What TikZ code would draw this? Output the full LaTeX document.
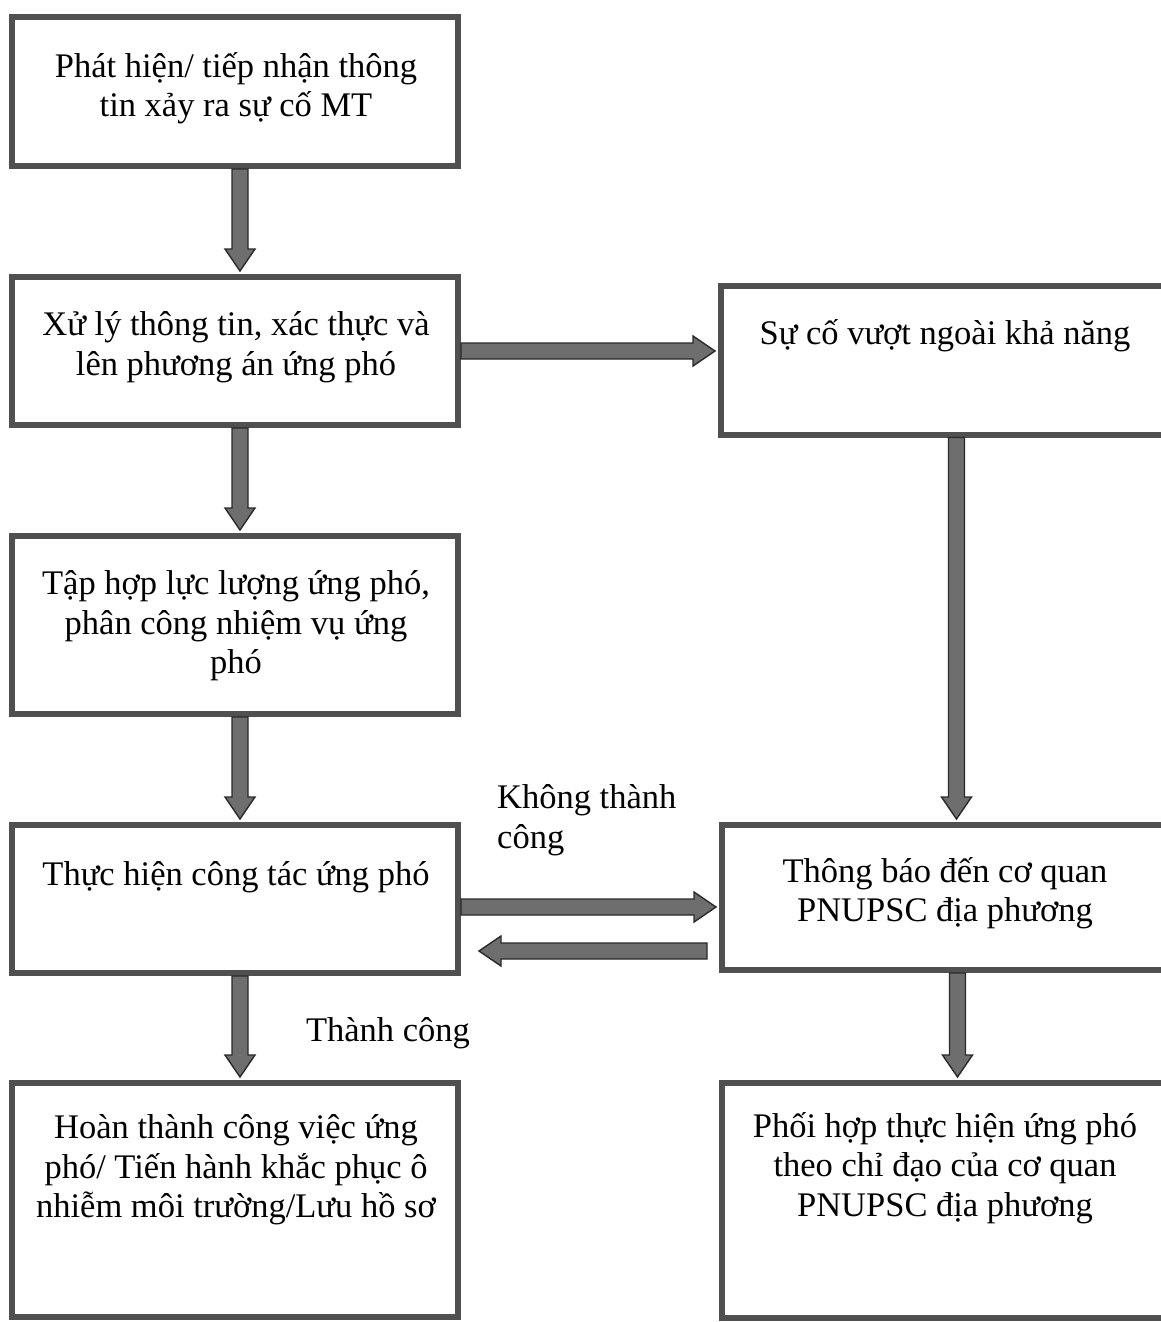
\documentclass[tikz,border=0pt]{standalone}
\usepackage{fontspec}
\setmainfont{Liberation Serif}
\usetikzlibrary{calc}
\definecolor{boxline}{HTML}{505050}
\definecolor{arrfill}{HTML}{6E6E6E}
\definecolor{arrline}{HTML}{2A2A2A}
\tikzset{
  box/.style={draw=boxline, line width=6pt, fill=white, rectangle, inner sep=0pt},
  txt/.style={align=center, font=\fontsize{34.5}{39.5}\selectfont, inner sep=0pt},
  lbl/.style={align=left, font=\fontsize{34.5}{39.5}\selectfont, inner sep=0pt},
  blockarrow/.style={draw=arrline, fill=arrfill, line width=1.4pt, line join=miter}
}
\newcommand\barrow[2]{%
  \path (#1) coordinate (bA) (#2) coordinate (bB) ($(bB)!22pt!(bA)$) coordinate (bH);
  \draw[blockarrow] ($(bA)!8pt!90:(bB)$) -- ($(bH)!8pt!90:(bB)$) -- ($(bH)!15pt!90:(bB)$) -- (bB)
    -- ($(bH)!15pt!-90:(bB)$) -- ($(bH)!8pt!-90:(bB)$) -- ($(bA)!8pt!-90:(bB)$) -- cycle;}
\begin{document}
\begin{tikzpicture}[x=1pt,y=-1pt]
\useasboundingbox (0,0) rectangle (1161,1322);
\fill[white] (0,0) rectangle (1161,1322);
\clip (0,0) rectangle (1161,1322);
% left column boxes
\node[box, minimum width=446pt, minimum height=149pt] (b1) at (235,91.5) {};
\node[box, minimum width=446pt, minimum height=148pt] (b2) at (235,351) {};
\node[box, minimum width=446pt, minimum height=178pt] (b3) at (235,625) {};
\node[box, minimum width=446pt, minimum height=148pt] (b4) at (235,899) {};
\node[box, minimum width=446pt, minimum height=234pt] (b5) at (235,1200) {};
% right column boxes (cut at the right edge)
\node[box, minimum width=459pt, minimum height=149pt] (rA) at (950.5,360) {};
\node[box, minimum width=459pt, minimum height=145pt] (rB) at (951.5,897.5) {};
\node[box, minimum width=459pt, minimum height=235pt] (rC) at (951.5,1200.5) {};
% texts
\node[txt] (t1) at (236,88) {Phát hiện/ tiếp nhận thông\\tin xảy ra sự cố MT};
\node[txt] (t2) at (236,347) {Xử lý thông tin, xác thực và\\lên phương án ứng phó};
\node[txt] (t3) at (236,626) {Tập hợp lực lượng ứng phó,\\phân công nhiệm vụ ứng\\phó};
\node[txt] (t4) at (236,877) {Thực hiện công tác ứng phó};
\node[txt] (t5) at (236,1170) {Hoàn thành công việc ứng\\phó/ Tiến hành khắc phục ô\\nhiễm môi trường/Lưu hồ sơ};
\node[txt] (tA) at (945,336) {Sự cố vượt ngoài khả năng};
\node[txt] (tB) at (945,893) {Thông báo đến cơ quan\\PNUPSC địa phương};
\node[txt] (tC) at (945,1168) {Phối hợp thực hiện ứng phó\\theo chỉ đạo của cơ quan\\PNUPSC địa phương};
\node[lbl, anchor=west] (l1) at (497,820) {Không thành\\công};
\node[txt] (l2) at (388,1033) {Thành công};
% connectors
\barrow{[xshift=5pt]b1.south}{[xshift=5pt,yshift=3pt]b2.north}
\barrow{[xshift=5pt]b2.south}{[xshift=5pt,yshift=3pt]b3.north}
\barrow{[xshift=5pt]b3.south}{[xshift=5pt,yshift=3pt]b4.north}
\barrow{[xshift=5pt]b4.south}{[xshift=5pt,yshift=3pt]b5.north}
\coordinate (rAs) at ([xshift=6pt]rA.south);
\barrow{rAs}{[yshift=3pt]rAs |- rB.north}
\coordinate (rBs) at ([xshift=6pt]rB.south);
\barrow{rBs}{[yshift=3pt]rBs |- rC.north}
\barrow{b2.east}{[xshift=-3pt]b2.east -| rA.west}
\coordinate (b4e) at ([yshift=-8pt]b4.east);
\barrow{b4e}{[xshift=-3pt]b4e -| rB.west}
\coordinate (rBw) at ([yshift=-52pt,xshift=-12pt]rB.west |- b4.east);
\barrow{rBw}{[xshift=18pt]rBw -| b4.east}
\end{tikzpicture}
\end{document}
